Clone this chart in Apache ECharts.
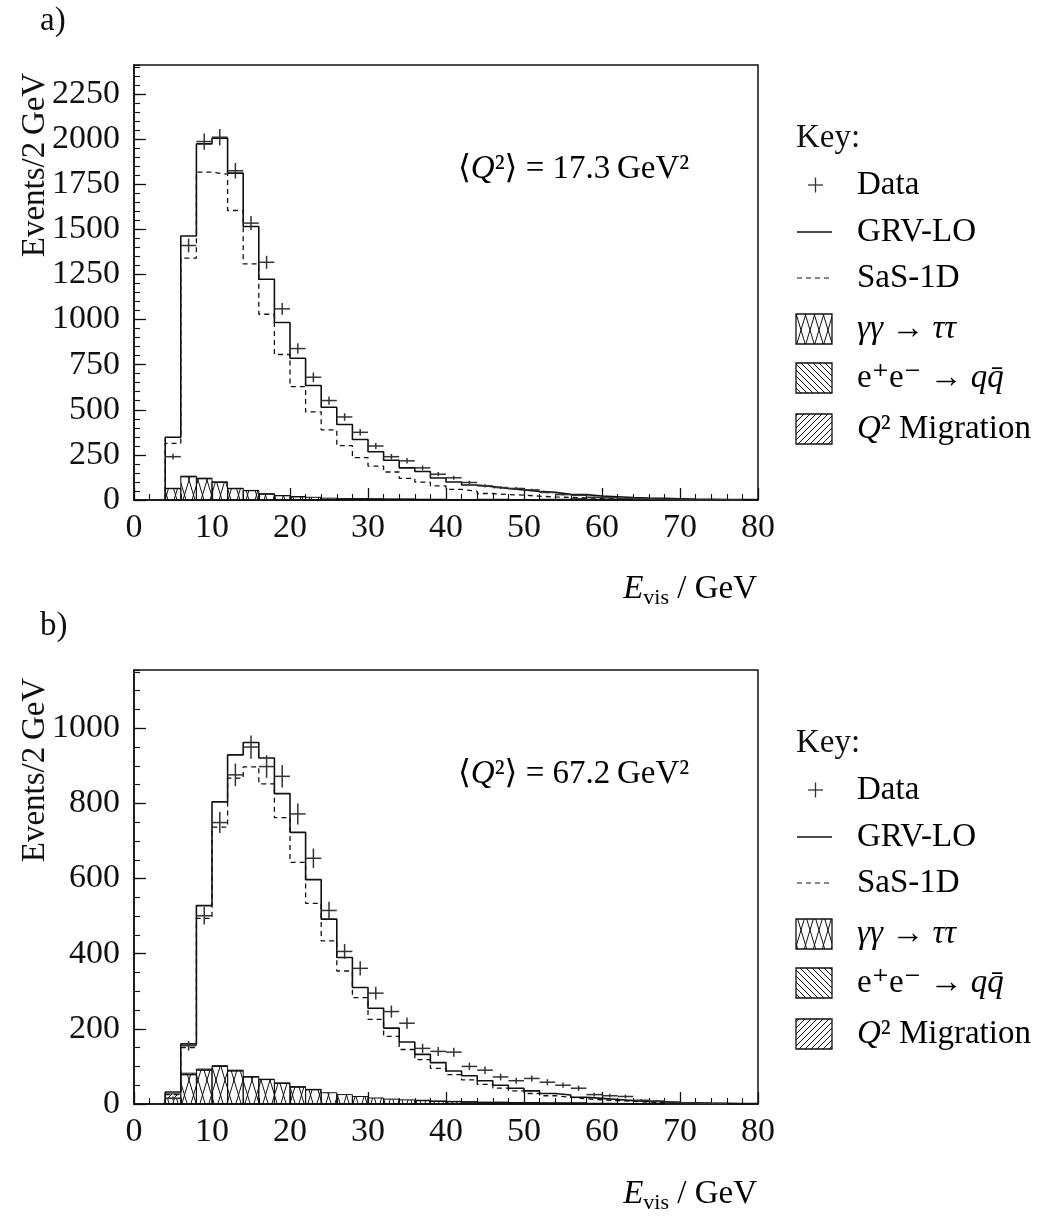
<!DOCTYPE html>
<html>
<head>
<meta charset="utf-8">
<script src="https://cdn.jsdelivr.net/npm/echarts@6/dist/echarts.min.js"></script>
<style>
  html, body { margin: 0; padding: 0; background: #fff; }
  #chart { width: 1045px; height: 1216px; }
</style>
</head>
<body>
<div id="chart"></div>
<script>
// Visible-energy spectra, 2 GeV bins from 4 to 80 GeV (lower bin edges)
const binLow = [4, 6, 8, 10, 12, 14, 16, 18, 20, 22, 24, 26, 28, 30, 32, 34, 36, 38, 40,
                42, 44, 46, 48, 50, 52, 54, 56, 58, 60, 62, 64, 66, 68, 70, 72, 74, 76, 78];
const BIN_W = 2;

// Panel a) <Q2> = 17.3 GeV2
const aGRV    = [348, 1463, 1973, 2005, 1811, 1515, 1223, 983, 785, 634, 514, 418, 335, 267, 220, 178, 158, 122, 100,
                 83, 74, 64, 55, 48, 42, 32, 30, 22, 18, 14, 11, 9, 7, 5, 4, 3, 2, 2];
const aSaS    = [314, 1340, 1816, 1805, 1604, 1308, 1029, 806, 628, 488, 388, 301, 235, 188, 155, 120, 99, 78, 59,
                 48, 36, 30, 27, 21, 17, 14, 12, 9, 7, 5, 4, 3, 2, 2, 1, 1, 1, 1];
const aData   = [240, 1410, 1986, 2010, 1824, 1534, 1317, 1059, 839, 680, 551, 460, 375, 299, 240, 217, 178, 143, 123,
                 97, 78, 69, 64, 56, 42, 30, 26, 15, 12, 9, 6, 4, 3, 2, 1, 2, 1, 0];
const aErr    = [16, 38, 45, 45, 43, 39, 36, 33, 29, 26, 23, 21, 19, 17, 15, 15, 13, 12, 11,
                 10, 9, 8, 8, 7, 6, 5, 5, 4, 3, 3, 2, 2, 2, 1, 1, 1, 1, 0];
const aTauTau = [63, 129, 118, 98, 63, 52, 33, 24, 18, 15, 10, 8, 6, 5, 4, 4, 3, 3, 2,
                 2, 2, 2, 1, 1, 1, 1, 1, 1, 1, 0, 0, 0, 0, 0, 0, 0, 0, 0];
const aEEqq   = [0, 0, 0, 0, 0, 0, 0, 0, 0, 0, 0, 0, 1, 1, 1, 1, 1, 1, 1,
                 1, 2, 2, 2, 2, 3, 3, 6, 3, 2, 2, 1, 1, 1, 0, 0, 0, 0, 0];
const aMig    = [2, 3, 3, 2, 2, 1, 1, 1, 1, 0, 0, 0, 0, 0, 0, 0, 0, 0, 0,
                 0, 0, 0, 0, 0, 0, 0, 0, 0, 0, 0, 0, 0, 0, 0, 0, 0, 0, 0];

// Panel b) <Q2> = 67.2 GeV2
const bGRV    = [32, 160, 528, 804, 929, 962, 921, 826, 723, 597, 492, 390, 310, 255, 202, 165, 132, 110, 88,
                 75, 62, 50, 42, 35, 28, 24, 18, 15, 12, 9, 7, 6, 4, 3, 2, 2, 1, 1];
const bSaS    = [25, 150, 494, 737, 867, 897, 852, 762, 643, 534, 434, 354, 283, 225, 180, 145, 118, 95, 78,
                 64, 52, 42, 35, 28, 22, 18, 14, 11, 9, 7, 5, 4, 3, 2, 2, 1, 1, 1];
const bData   = [15, 155, 501, 749, 876, 950, 898, 872, 772, 654, 515, 406, 361, 295, 246, 215, 148, 140, 138,
                 100, 90, 72, 62, 68, 58, 50, 42, 25, 22, 20, 10, 8, 5, 3, 2, 1, 0, 0];
const bErr    = [5, 13, 23, 28, 30, 31, 30, 30, 28, 26, 23, 20, 19, 17, 16, 15, 12, 12, 12,
                 10, 10, 9, 8, 8, 8, 7, 7, 5, 5, 5, 3, 3, 2, 2, 1, 1, 0, 0];
const bTauTau = [15, 78, 90, 100, 88, 72, 65, 55, 45, 38, 30, 25, 20, 16, 13, 11, 9, 7, 6,
                 5, 4, 4, 3, 3, 2, 2, 2, 1, 1, 1, 1, 1, 0, 0, 0, 0, 0, 0];
const bEEqq   = [0, 0, 0, 0, 0, 0, 0, 0, 0, 0, 0, 0, 0, 0, 0, 0, 1, 1, 1,
                 1, 1, 1, 1, 1, 1, 1, 1, 1, 1, 0, 0, 0, 0, 0, 0, 0, 0, 0];
const bMig    = [12, 4, 3, 2, 2, 1, 1, 1, 1, 1, 0, 0, 0, 0, 0, 0, 0, 0, 0,
                 0, 0, 0, 0, 0, 0, 0, 0, 0, 0, 0, 0, 0, 0, 0, 0, 0, 0, 0];

// Axis ticks
const xMajor = 10;
const aYMajor = 250, bYMajor = 200, yMinor = 50;
const aYMax = 2410, bYMax = 1155;

const FONT = "'Liberation Serif', 'DejaVu Serif', serif";
const INK = '#111';

// Hatch fills drawn on small tiles
function hatch(kind) {
  const c = document.createElement('canvas');
  let ctx;
  if (kind === 'cross') {
    const w = 9, h = 30;
    c.width = w; c.height = h;
    ctx = c.getContext('2d');
    ctx.strokeStyle = '#111'; ctx.lineWidth = 1;
    ctx.beginPath();
    for (let k = -1; k <= 1; k++) {
      ctx.moveTo(k * w, 0); ctx.lineTo(k * w + w, h);
      ctx.moveTo(k * w + w, 0); ctx.lineTo(k * w, h);
    }
  } else {
    const s = 6;
    c.width = s; c.height = s;
    ctx = c.getContext('2d');
    ctx.strokeStyle = '#111'; ctx.lineWidth = 1;
    ctx.beginPath();
    for (let k = -1; k <= 1; k++) {
      if (kind === 'back') { ctx.moveTo(k * s, 0); ctx.lineTo(k * s + s, s); }
      else { ctx.moveTo(k * s, s); ctx.lineTo(k * s + s, 0); }
    }
  }
  ctx.stroke();
  return { image: c, repeat: 'repeat' };
}
const patCross = hatch('cross');
const patBack = hatch('back');
const patFwd = hatch('fwd');

// Step-histogram outline points: leading edge from zero, one point per bin, closing right edge
function histPoints(vals) {
  const pts = [[binLow[0], 0]];
  vals.forEach((v, i) => pts.push([binLow[i], v]));
  const n = vals.length - 1;
  pts.push([binLow[n] + BIN_W, vals[n]]);
  return pts;
}

function histSeries(name, vals, g, style) {
  return {
    name, type: 'line', step: 'end', xAxisIndex: g, yAxisIndex: 2 * g,
    data: histPoints(vals), symbol: 'none', silent: true, z: 4,
    lineStyle: Object.assign({ color: INK, width: 1.6 }, style)
  };
}

// Background components stacked bin by bin as hatched boxes
function bgSeries(name, vals, below, g, pat) {
  return {
    name, type: 'custom', xAxisIndex: g, yAxisIndex: 2 * g, z: 3, silent: true,
    data: vals.map((v, i) => {
      const base = below.reduce((s, arr) => s + arr[i], 0);
      return [binLow[i], base, base + v];
    }),
    encode: { x: 0, y: 2 },
    renderItem(params, api) {
      const lo = api.value(0), y0 = api.value(1), y1 = api.value(2);
      if (!(y1 > y0)) return null;
      const p0 = api.coord([lo, y0]), p1 = api.coord([lo + BIN_W, y1]);
      return {
        type: 'rect',
        shape: { x: p0[0], y: p1[1], width: p1[0] - p0[0], height: p0[1] - p1[1] },
        style: { fill: pat, stroke: INK, lineWidth: 1 }
      };
    }
  };
}

function dataSeries(vals, errs, g) {
  return {
    name: 'Data', type: 'custom', xAxisIndex: g, yAxisIndex: 2 * g, z: 6, silent: true,
    data: vals.map((v, i) => [binLow[i], v, errs[i]]),
    encode: { x: 0, y: 1 },
    renderItem(params, api) {
      const lo = api.value(0), v = api.value(1), e = api.value(2);
      if (!(v > 0)) return null;
      const pL = api.coord([lo, v]), pR = api.coord([lo + BIN_W, v]);
      const pT = api.coord([lo + BIN_W / 2, v + e]), pB = api.coord([lo + BIN_W / 2, v - e]);
      const st = { stroke: '#333', lineWidth: 1.5 };
      return {
        type: 'group', children: [
          { type: 'line', shape: { x1: pL[0], y1: pL[1], x2: pR[0], y2: pR[1] }, style: st },
          { type: 'line', shape: { x1: pT[0], y1: pT[1], x2: pB[0], y2: pB[1] }, style: st }
        ]
      };
    }
  };
}

const grids = [
  { left: 134, top: 65, width: 624, height: 435 },
  { left: 134, top: 670, width: 624, height: 434 }
].map(g => Object.assign(g, { show: true, borderColor: INK, borderWidth: 1.5, backgroundColor: 'transparent' }));

function xAxisFor(g) {
  return {
    gridIndex: g, type: 'value', min: 0, max: 80, interval: xMajor,
    axisLine: { lineStyle: { color: INK, width: 1.5 } },
    axisTick: { inside: true, length: 12, lineStyle: { color: INK, width: 1.3 } },
    minorTick: { show: true, splitNumber: 5, length: 6, lineStyle: { color: INK, width: 1.1 } },
    splitLine: { show: false }, minorSplitLine: { show: false },
    axisLabel: { fontFamily: FONT, fontSize: 34, color: INK, margin: 11, formatter: v => String(v) }
  };
}
function yAxesFor(g, max, major) {
  return [
    {
      gridIndex: g, type: 'value', position: 'left', min: 0, max, interval: major,
      axisLine: { show: true, lineStyle: { color: INK, width: 1.5 } },
      axisTick: { inside: true, length: 12, lineStyle: { color: INK, width: 1.3 } },
      splitLine: { show: false },
      axisLabel: { fontFamily: FONT, fontSize: 34, color: INK, margin: 14, showMaxLabel: false, formatter: v => String(v) }
    },
    {
      gridIndex: g, type: 'value', position: 'left', min: 0, max, interval: yMinor,
      axisLine: { show: false },
      axisTick: { inside: true, length: 6, lineStyle: { color: INK, width: 1.1 } },
      splitLine: { show: false }, axisLabel: { show: false }
    }
  ];
}

// Text styles
const richMath = {
  n: { fontFamily: FONT, fontSize: 33, color: INK, lineHeight: 40 },
  i: { fontFamily: FONT, fontSize: 33, color: INK, fontStyle: 'italic', lineHeight: 40 },
  sub: { fontFamily: FONT, fontSize: 22, color: INK, verticalAlign: 'bottom', lineHeight: 24 }
};

function panelText(top, label, q2) {
  const els = [];
  // panel tag
  els.push({ type: 'text', left: 40, top: top - 60, style: { text: label, font: `33px ${FONT}`, fill: INK } });
  // y-axis title
  els.push({
    type: 'text', x: 35, y: top + 100, rotation: Math.PI / 2,
    style: { text: 'Events/2\u2009GeV', font: `33px ${FONT}`, fill: INK, align: 'center', verticalAlign: 'middle' }
  });
  // x-axis title
  els.push({
    type: 'text', right: 1045 - 757, top: top + 508,
    style: { text: '{i|E}{sub|vis}{n| / GeV}', rich: richMath, align: 'right' }
  });
  // mean Q2
  els.push({
    type: 'text', left: 458, top: top + 88,
    style: { text: `{n|\u27E8}{i|Q}{n|\u00B2\u27E9 = ${q2}\u2009GeV\u00B2}`, rich: richMath }
  });
  // key
  const ky = top + 73;      // "Key:" centre
  const rows = [ky + 47, ky + 94, ky + 140, ky + 191, ky + 240, ky + 291];
  const tx = 857;
  const txt = (y, t) => ({ type: 'text', x: tx, y, style: { text: t, rich: richMath, verticalAlign: 'middle' } });
  els.push({ type: 'text', x: 796, y: ky, style: { text: 'Key:', font: `33px ${FONT}`, fill: INK, verticalAlign: 'middle' } });
  // data marker
  els.push({ type: 'line', shape: { x1: 808, y1: rows[0], x2: 823, y2: rows[0] }, style: { stroke: '#333', lineWidth: 1.3 } });
  els.push({ type: 'line', shape: { x1: 815.5, y1: rows[0] - 7.5, x2: 815.5, y2: rows[0] + 7.5 }, style: { stroke: '#333', lineWidth: 1.3 } });
  els.push(txt(rows[0], '{n|Data}'));
  els.push({ type: 'line', shape: { x1: 797, y1: rows[1], x2: 832, y2: rows[1] }, style: { stroke: INK, lineWidth: 1.3 } });
  els.push(txt(rows[1], '{n|GRV-LO}'));
  els.push({ type: 'line', shape: { x1: 797, y1: rows[2], x2: 832, y2: rows[2] }, style: { stroke: INK, lineWidth: 1.2, lineDash: [5, 4] } });
  els.push(txt(rows[2], '{n|SaS-1D}'));
  const box = (y, pat) => ({ type: 'rect', shape: { x: 796, y: y - 15, width: 36, height: 30 }, style: { fill: pat, stroke: INK, lineWidth: 1.3 } });
  els.push(box(rows[3], patCross));
  els.push(txt(rows[3], '{i|\u03B3\u03B3}{n| \u2192 }{i|\u03C4\u03C4}'));
  els.push(box(rows[4], patBack));
  els.push(txt(rows[4], '{n|e\u207Ae\u207B \u2192 }{i|q\u0071\u0304}'));
  els.push(box(rows[5], patFwd));
  els.push(txt(rows[5], '{i|Q}{n|\u00B2 Migration}'));
  return els;
}

const chart = echarts.init(document.getElementById('chart'), null, { renderer: 'canvas' });
chart.setOption({
  animation: false,
  backgroundColor: '#fff',
  grid: grids,
  xAxis: [xAxisFor(0), xAxisFor(1)],
  yAxis: [...yAxesFor(0, aYMax, aYMajor), ...yAxesFor(1, bYMax, bYMajor)],
  series: [
    bgSeries('\u03B3\u03B3\u2192\u03C4\u03C4', aTauTau, [], 0, patCross),
    bgSeries('e+e-\u2192qq', aEEqq, [aTauTau], 0, patBack),
    bgSeries('Q2 Migration', aMig, [aTauTau, aEEqq], 0, patFwd),
    histSeries('SaS-1D', aSaS, 0, { width: 1.3, type: [5, 4] }),
    histSeries('GRV-LO', aGRV, 0, {}),
    dataSeries(aData, aErr, 0),
    bgSeries('\u03B3\u03B3\u2192\u03C4\u03C4', bTauTau, [], 1, patCross),
    bgSeries('e+e-\u2192qq', bEEqq, [bTauTau], 1, patBack),
    bgSeries('Q2 Migration', bMig, [bTauTau, bEEqq], 1, patFwd),
    histSeries('SaS-1D', bSaS, 1, { width: 1.3, type: [5, 4] }),
    histSeries('GRV-LO', bGRV, 1, {}),
    dataSeries(bData, bErr, 1)
  ],
  graphic: [...panelText(65, 'a)', '17.3'), ...panelText(670, 'b)', '67.2')]
});
</script>
</body>
</html>
